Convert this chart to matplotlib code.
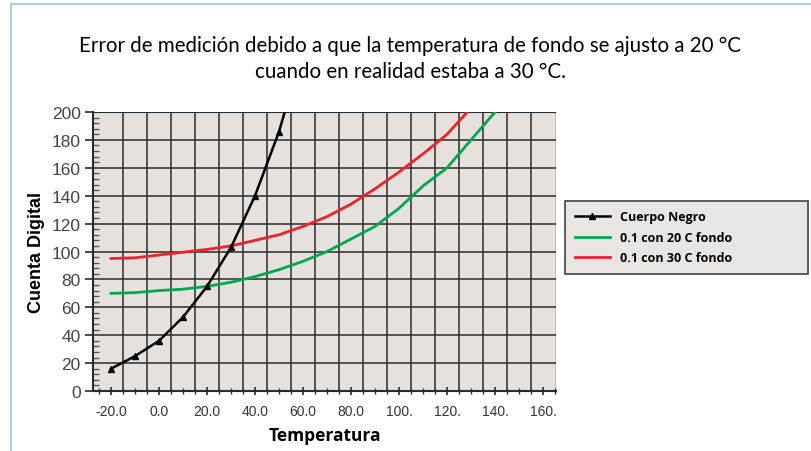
import matplotlib
matplotlib.use("Agg")
import matplotlib.pyplot as plt
import numpy as np
from matplotlib.patches import Rectangle

# data
temp_bb = [-20, -10, 0, 10, 20, 30, 40, 50, 60]
cuerpo_negro = [16, 25, 36, 53, 75, 103, 140, 186, 245]

temp_fondo = [-20, -10, 0, 10, 20, 30, 40, 50, 60, 70, 80, 90,
              100, 110, 120, 130, 140, 150]
fondo_20 = [70, 70.5, 72, 73, 75, 78, 82, 87, 93, 100, 109, 118,
            131, 147, 160, 180, 200, 222]
fondo_30 = [95, 95.5, 97.5, 99.5, 101.5, 104, 108, 112, 118, 125, 134, 145,
            157, 170, 184, 203, 225, 248]

x_ticks = [-20, 0, 20, 40, 60, 80, 100, 120, 140, 160]
x_labels = ["-20.0", "0.0", "20.0", "40.0", "60.0", "80.0",
            "100.", "120.", "140.", "160."]
y_ticks = list(range(0, 201, 20))

title = ("Error de medición debido a que la temperatura de fondo se ajusto a 20 °C\n"
         "cuando en realidad estaba a 30 °C.")

bg = "#e7e1de"
grid_c = "#2b2b2b"

fig = plt.figure(figsize=(8.11, 4.52), dpi=100)
fig.patches.append(Rectangle((0.013, -0.05), 1.1, 1.04, transform=fig.transFigure,
                             fill=False, edgecolor="#a9cfe0", linewidth=1.5))

ax = fig.add_axes([0.1147, 0.1327, 0.5709, 0.6173])
ax.set_facecolor(bg)
ax.set_xlim(-27.5, 165.4)
ax.set_ylim(0, 200)

# grid
for gx in np.arange(-15, 160, 10):
    ax.axvline(gx, color=grid_c, lw=1.1, zorder=1)
for gy in y_ticks[1:]:
    ax.axhline(gy, color=grid_c, lw=1.1, zorder=1)

l_20, = ax.plot(temp_fondo, fondo_20, color="#00a84f", lw=2, zorder=3)
l_30, = ax.plot(temp_fondo, fondo_30, color="#f0202c", lw=2, zorder=3)
l_bb, = ax.plot(temp_bb, cuerpo_negro, color="black", lw=1.8, marker="^", ms=5, zorder=4)

for s in ["top", "right"]:
    ax.spines[s].set_visible(False)
ax.spines["left"].set_color(grid_c)
ax.spines["bottom"].set_color(grid_c)
ax.spines["left"].set_linewidth(1.5)
ax.spines["bottom"].set_linewidth(1.5)
ax.axhline(200, color=grid_c, lw=1.5, zorder=1)
ax.axvline(165.4, color=grid_c, lw=1.0, zorder=1)

ax.set_xticks(x_ticks)
ax.set_xticklabels(x_labels, fontsize=10, color="#333333", family="Liberation Sans")
ax.set_xticks(np.arange(-25, 166, 5), minor=True)
ax.tick_params(axis="x", which="major", direction="inout", length=6, width=1.2,
               color=grid_c, pad=6)
ax.tick_params(axis="x", which="minor", direction="inout", length=4, width=1,
               color=grid_c)

ax.set_yticks(y_ticks)
ax.set_yticklabels([str(v) for v in y_ticks], fontsize=12.5, color="#444444",
                   family="Liberation Sans")
ax.set_yticks(np.arange(0, 201, 4), minor=True)
ax.tick_params(axis="y", which="major", direction="out", length=6, width=1.2,
               color=grid_c, pad=3)
ax.tick_params(axis="y", which="minor", direction="in", length=4, width=1,
               color="#555555")

ax.set_xlabel("Temperatura", fontsize=12.5, fontweight="bold", family="Open Sans",
              labelpad=6)
ax.set_ylabel("Cuenta Digital", fontsize=13, fontweight="bold", family="Liberation Sans",
              labelpad=5)

fig.text(0.506, 0.87, title, ha="center", va="center", fontsize=14.8,
         family="Lato", linespacing=1.35)

leg = fig.legend([l_bb, l_20, l_30],
                 ["Cuerpo Negro", "0.1 con 20 C fondo", "0.1 con 30 C fondo"],
                 loc="upper left", bbox_to_anchor=(0.697, 0.553, 0.299, 0.0),
                 mode="expand", frameon=True, fancybox=False,
                 prop={"family": "Open Sans", "weight": "bold", "size": 9},
                 handlelength=2.8, borderpad=0.75, labelspacing=0.6,
                 borderaxespad=0, edgecolor="#444444", facecolor="#e9e5e3")
leg.get_frame().set_linewidth(1.2)
leg.get_frame().set_alpha(1)

fig.savefig("out.png", dpi=100, facecolor="white")
